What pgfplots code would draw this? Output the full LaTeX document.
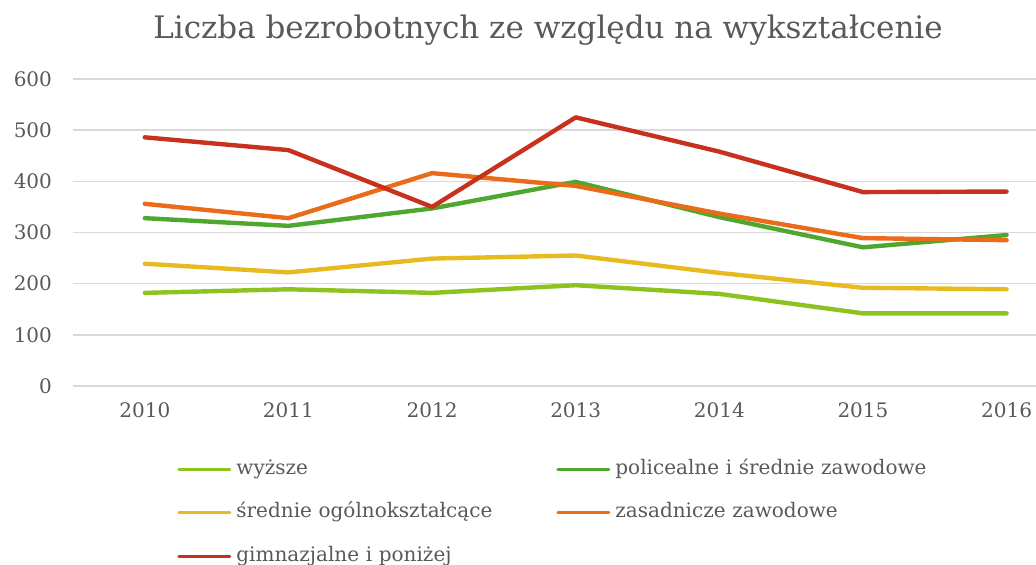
\documentclass[border=0pt]{standalone}
\usepackage{fontspec}
\setmainfont{DejaVu Serif}
\usepackage{pgfplots}
\pgfplotsset{compat=1.18}
\definecolor{cwyz}{HTML}{8DC21F}
\definecolor{cpol}{HTML}{4EA72E}
\definecolor{csre}{HTML}{E8BA22}
\definecolor{czas}{HTML}{EA6B1A}
\definecolor{cgim}{HTML}{C7311D}
\definecolor{txtgrey}{HTML}{595959}
\definecolor{gridgrey}{HTML}{D9D9D9}

\begin{document}
\begin{tikzpicture}
\path[use as bounding box] (0pt,0pt) rectangle (518pt,282.5pt);

\node[text=txtgrey, font=\fontsize{15.5}{18}\selectfont] at (274pt,267.5pt)
  {Liczba bezrobotnych ze względu na wykształcenie};

\begin{axis}[
  at={(36.5pt,89.5pt)}, anchor=south west,
  scale only axis, width=481.5pt, height=153.5pt,
  xmin=-0.5, xmax=6.205, ymin=0, ymax=600,
  xtick={0,...,6},
  xticklabels={2010,2011,2012,2013,2014,2015,2016},
  ytick={0,100,...,600},
  axis line style={draw=none},
  major tick length=0pt,
  ymajorgrids, grid style={gridgrey, line width=0.8pt},
  /pgf/number format/assume math mode=true,
  ticklabel style={font=\fontsize{10}{12}\selectfont, text=txtgrey},
  xticklabel style={yshift=-5pt},
  yticklabel style={xshift=-7pt},
  clip=false,
  legend columns=2,
  legend cell align=left,
  legend image code/.code={\draw[#1, line width=1.6pt, line cap=round] (0.8pt,0pt) -- (26.2pt,0pt);},
  legend style={at={(0.108,-0.237)}, anchor=north west, draw=none, fill=none,
    inner sep=0pt, row sep=11.8pt, column sep=0pt,
    nodes={inner xsep=2.5pt, inner ysep=0pt, text width=157.5pt, align=left,
           text height=7.5pt, text depth=2.5pt, text=txtgrey,
           font=\fontsize{10}{12}\selectfont}},
  every axis plot/.append style={line width=2.2pt, line join=round, line cap=round},
]
\addplot[cwyz] coordinates {(0,182) (1,189) (2,182) (3,197) (4,180) (5,142) (6,142)};
\addlegendentry{wyższe}
\addplot[cpol] coordinates {(0,328) (1,313) (2,347) (3,399) (4,330) (5,271) (6,295)};
\addlegendentry{policealne i średnie zawodowe}
\addplot[csre] coordinates {(0,239) (1,222) (2,249) (3,255) (4,221) (5,192) (6,189)};
\addlegendentry{średnie ogólnokształcące}
\addplot[czas] coordinates {(0,356) (1,328) (2,416) (3,391) (4,337) (5,289) (6,285)};
\addlegendentry{zasadnicze zawodowe}
\addplot[cgim] coordinates {(0,486) (1,461) (2,350) (3,525) (4,458) (5,379) (6,380)};
\addlegendentry{gimnazjalne i poniżej}
\end{axis}
\end{tikzpicture}
\end{document}
